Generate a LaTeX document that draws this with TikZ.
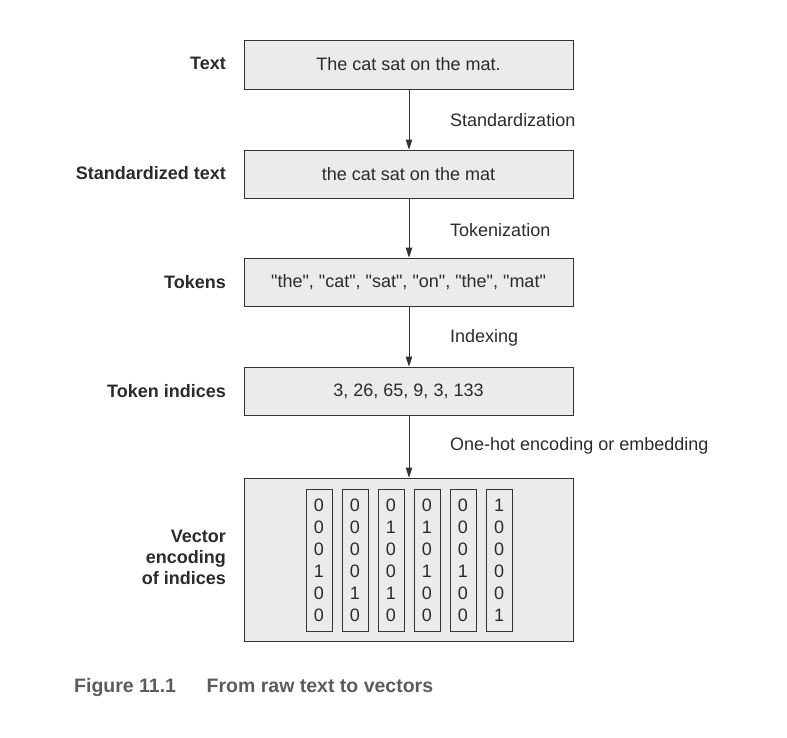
\documentclass[tikz,border=0pt]{standalone}
\usepackage{fontspec}
\setmainfont{Liberation Sans}[Ligatures=TeXOff]
\usetikzlibrary{arrows.meta}
\definecolor{boxfill}{HTML}{EBEBEB}
\definecolor{linec}{HTML}{333333}
\definecolor{txt}{HTML}{2B2B2B}
\definecolor{capc}{HTML}{5C5C5C}
\begin{document}
\begin{tikzpicture}[x=1pt,y=-1pt,
  every node/.style={text=txt, font=\fontsize{18}{21}\selectfont},
  stagebox/.style={draw=linec, line width=0.9pt, fill=boxfill, minimum width=329pt, inner sep=0pt},
  lefttag/.style={anchor=east, font=\fontsize{18}{21}\selectfont\bfseries, align=right, inner sep=0pt},
  steptag/.style={anchor=west, inner sep=0pt},
  vecbox/.style={draw=linec, line width=0.9pt, minimum width=26pt, minimum height=142pt, inner sep=0pt},
  digit/.style={inner sep=0pt},
  flow/.style={draw=linec, line width=0.9pt, -{Triangle[length=10pt,width=6.5pt]}},
  captxt/.style={anchor=base west, text=capc, inner sep=0pt, font=\fontsize{19.5}{22}\selectfont\bfseries}
]
\useasboundingbox (0,0) rectangle (787,737);

\node[stagebox, minimum height=49pt] (b1) at (408.5,64.5) {The cat sat on the mat.};
\node[stagebox, minimum height=48pt] (b2) at (408.5,174) {the cat sat on the mat};
\node[stagebox, minimum height=48pt] (b3) at (408.5,282) {"the", "cat", "sat", "on", "the", "mat"};
\node[stagebox, minimum height=48pt] (b4) at (408.5,391) {3, 26, 65, 9, 3, 133};
\node[stagebox, minimum height=163pt] (b5) at (408.5,559.5) {};

\node[lefttag] (l1) at (226,63) {Text};
\node[lefttag] (l2) at (226,173) {Standardized text};
\node[lefttag] (l3) at (226,282) {Tokens};
\node[lefttag] (l4) at (226,391) {Token indices};
\node[lefttag] (l5) at (226,557) {Vector\\encoding\\of indices};

\draw[flow] (b1.south -| 409,0) -- (b2.north -| 409,0);
\draw[flow] (b2.south -| 409,0) -- (b3.north -| 409,0);
\draw[flow] (b3.south -| 409,0) -- (b4.north -| 409,0);
\draw[flow] (b4.south -| 409,0) -- (b5.north -| 409,0);

\node[steptag] (s1) at (450,120) {Standardization};
\node[steptag] (s2) at (450,230) {Tokenization};
\node[steptag] (s3) at (450,338) {Indexing};
\node[steptag] (s4) at (450,446) {One-hot encoding or embedding};

\foreach \i/\cx/\bits in {1/319/{0,0,0,1,0,0},2/355/{0,0,0,0,1,0},3/391/{0,1,0,0,1,0},4/427/{0,1,0,1,0,0},5/463/{0,0,0,1,0,0},6/499/{1,0,0,0,0,1}}{
  \node[vecbox] (c\i) at (\cx,560) {};
  \foreach \b [count=\j] in \bits {
    \node[digit] (d\i-\j) at (\cx,{483+22*\j}) {\b};
  }
}

\node[captxt] (cap1) at (74,692) {Figure 11.1};
\node[captxt] (cap2) at (206.5,692) {From raw text to vectors};
\end{tikzpicture}
\end{document}
